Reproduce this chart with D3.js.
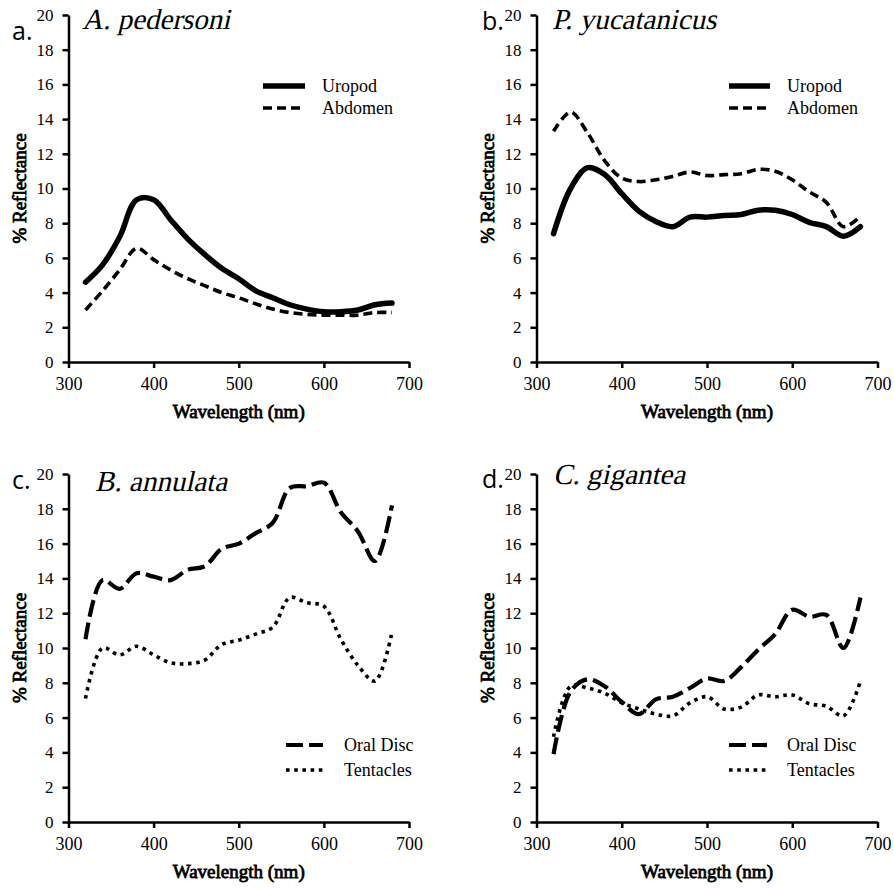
<!DOCTYPE html>
<html>
<head>
<meta charset="utf-8">
<script src="https://cdn.jsdelivr.net/npm/d3@7"></script>
<style>
  html, body { margin: 0; padding: 0; background: #fff; }
  svg { display: block; }
</style>
</head>
<body>
<div id="chart"></div>
<script>
// wavelength grid (nm) shared by every series
const wavelengths = [320, 340, 360, 380, 400, 420, 440, 460, 480, 500, 520, 540, 560, 580, 600, 620, 640, 660, 680];

// a. A. pedersoni
const uropodA  = [4.6, 5.6, 7.2, 9.35, 9.35, 8.2, 7.1, 6.2, 5.4, 4.8, 4.1, 3.7, 3.3, 3.05, 2.9, 2.9, 3.0, 3.3, 3.4];
const abdomenA = [3.0, 4.1, 5.3, 6.55, 5.9, 5.3, 4.8, 4.4, 4.0, 3.7, 3.35, 3.05, 2.85, 2.75, 2.7, 2.7, 2.7, 2.85, 2.85];

// b. P. yucatanicus
const uropodB  = [7.4, 10.0, 11.2, 10.8, 9.7, 8.7, 8.1, 7.8, 8.35, 8.35, 8.45, 8.5, 8.75, 8.75, 8.5, 8.05, 7.8, 7.25, 7.8];
const abdomenB = [13.3, 14.4, 13.2, 11.6, 10.6, 10.4, 10.5, 10.7, 10.95, 10.75, 10.8, 10.85, 11.1, 11.0, 10.5, 9.8, 9.2, 7.8, 8.4];

// c. B. annulata
const oralDiscC  = [10.5, 13.9, 13.4, 14.3, 14.1, 13.9, 14.5, 14.7, 15.7, 16.0, 16.6, 17.2, 19.2, 19.3, 19.5, 17.8, 16.7, 15.0, 18.2];
const tentaclesC = [7.1, 10.0, 9.6, 10.1, 9.6, 9.15, 9.1, 9.3, 10.2, 10.45, 10.8, 11.2, 12.9, 12.6, 12.4, 10.5, 9.0, 8.1, 10.9];

// d. C. gigantea
const oralDiscD  = [3.9, 7.5, 8.2, 7.8, 6.9, 6.2, 7.05, 7.2, 7.7, 8.25, 8.1, 8.9, 9.9, 10.8, 12.2, 11.8, 11.9, 10.0, 12.9];
const tentaclesD = [4.9, 7.8, 7.7, 7.4, 6.85, 6.5, 6.2, 6.1, 6.85, 7.2, 6.5, 6.6, 7.3, 7.2, 7.3, 6.8, 6.65, 6.1, 8.1];

const xTicks = [300, 400, 500, 600, 700];
const yTicks = [0, 2, 4, 6, 8, 10, 12, 14, 16, 18, 20];

const width = 894;
const height = 888;

const styles = {
  "Uropod":    { width: 5.5, dash: null,      cap: "round" },
  "Abdomen":   { width: 3.6, dash: "9,5",     cap: "butt" },
  "Oral Disc": { width: 4.2, dash: "17,6",    cap: "butt" },
  "Tentacles": { width: 3.6, dash: "3.6,4.6", cap: "butt" }
};

const panels = [
  { tag: "a.", title: "A. pedersoni", x0: 68.5, x1: 409, top: 15, bottom: 362,
    tagPos: [12, 40], titlePos: [82, 29],
    series: [["Uropod", uropodA], ["Abdomen", abdomenA]],
    legend: { lx0: 263, lx1: 305, tx: 322, y: [86, 108] } },
  { tag: "b.", title: "P. yucatanicus", x0: 536.5, x1: 877.5, top: 15, bottom: 362,
    tagPos: [482, 30], titlePos: [552, 29],
    series: [["Uropod", uropodB], ["Abdomen", abdomenB]],
    legend: { lx0: 729, lx1: 770, tx: 787, y: [86, 108] } },
  { tag: "c.", title: "B. annulata", x0: 68.5, x1: 409, top: 474, bottom: 822,
    tagPos: [12, 489], titlePos: [95, 491],
    series: [["Oral Disc", oralDiscC], ["Tentacles", tentaclesC]],
    legend: { lx0: 286, lx1: 323, tx: 344, y: [745, 770] } },
  { tag: "d.", title: "C. gigantea", x0: 536.5, x1: 877.5, top: 474, bottom: 822,
    tagPos: [482, 488], titlePos: [553, 484],
    series: [["Oral Disc", oralDiscD], ["Tentacles", tentaclesD]],
    legend: { lx0: 729, lx1: 767, tx: 787, y: [745, 770] } }
];

const svg = d3.select("#chart")
  .append("svg")
  .attr("width", width)
  .attr("height", height)
  .attr("viewBox", [0, 0, width, height]);

// only the regular serif face is installed, so bold and italic are faked below
const serif = "'Liberation Serif', 'Times New Roman', serif";

panels.forEach(p => {
  const x = d3.scaleLinear().domain([300, 700]).range([p.x0, p.x1]);
  const y = d3.scaleLinear().domain([0, 20]).range([p.bottom, p.top]);

  const g = svg.append("g");

  // lines
  const line = d3.line()
    .curve(d3.curveCatmullRom.alpha(0.5))
    .x(d => x(d[0]))
    .y(d => y(d[1]));

  p.series.forEach(([name, values]) => {
    const st = styles[name];
    g.append("path")
      .datum(wavelengths.map((w, i) => [w, values[i]]))
      .attr("fill", "none")
      .attr("stroke", "#000")
      .attr("stroke-width", st.width)
      .attr("stroke-linecap", st.cap)
      .attr("stroke-linejoin", "round")
      .attr("stroke-dasharray", st.dash)
      .attr("d", line);
  });

  // axes
  const xAxis = g.append("g")
    .attr("transform", `translate(0,${p.bottom})`)
    .call(d3.axisBottom(x).tickValues(xTicks).tickSize(6).tickSizeOuter(0).tickPadding(9));
  const yAxis = g.append("g")
    .attr("transform", `translate(${p.x0},0)`)
    .call(d3.axisLeft(y).tickValues(yTicks).tickSize(6).tickSizeOuter(0).tickPadding(9));

  [xAxis, yAxis].forEach(ax => {
    ax.select(".domain").attr("stroke-width", 2.5);
    ax.selectAll(".tick line").attr("stroke-width", 2.5);
    ax.selectAll(".tick text")
      .attr("fill", "#000")
      .attr("font-family", serif);
  });
  xAxis.selectAll(".tick text").attr("font-size", 18);
  yAxis.selectAll(".tick text").attr("font-size", 17);

  // axis titles (bold)
  g.append("text")
    .attr("x", (p.x0 + p.x1) / 2)
    .attr("y", p.bottom + 56)
    .attr("text-anchor", "middle")
    .attr("font-family", serif)
    .attr("font-size", 19)
    .attr("stroke", "#000")
    .attr("stroke-width", 0.8)
    .text("Wavelength (nm)");

  g.append("text")
    .attr("transform", `translate(${p.x0 - 43},${(p.top + p.bottom) / 2}) rotate(-90)`)
    .attr("text-anchor", "middle")
    .attr("font-family", serif)
    .attr("font-size", 19)
    .attr("stroke", "#000")
    .attr("stroke-width", 0.8)
    .text("% Reflectance");

  // panel tag and species name (italic)
  g.append("text")
    .attr("x", p.tagPos[0])
    .attr("y", p.tagPos[1])
    .attr("font-family", "'Open Sans', sans-serif")
    .attr("font-size", 25)
    .text(p.tag);

  g.append("text")
    .attr("transform", `translate(${p.titlePos[0]},${p.titlePos[1]}) skewX(-13)`)
    .attr("font-family", serif)
    .attr("font-size", 29)
    .text(p.title);

  // legend
  p.series.forEach(([name], i) => {
    const st = styles[name];
    const ly = p.legend.y[i];
    g.append("line")
      .attr("x1", p.legend.lx0)
      .attr("x2", p.legend.lx1)
      .attr("y1", ly)
      .attr("y2", ly)
      .attr("stroke", "#000")
      .attr("stroke-width", st.width)
      .attr("stroke-dasharray", st.dash);
    g.append("text")
      .attr("x", p.legend.tx)
      .attr("y", ly + 6)
      .attr("font-family", serif)
      .attr("font-size", 18)
      .text(name);
  });
});
</script>
</body>
</html>
